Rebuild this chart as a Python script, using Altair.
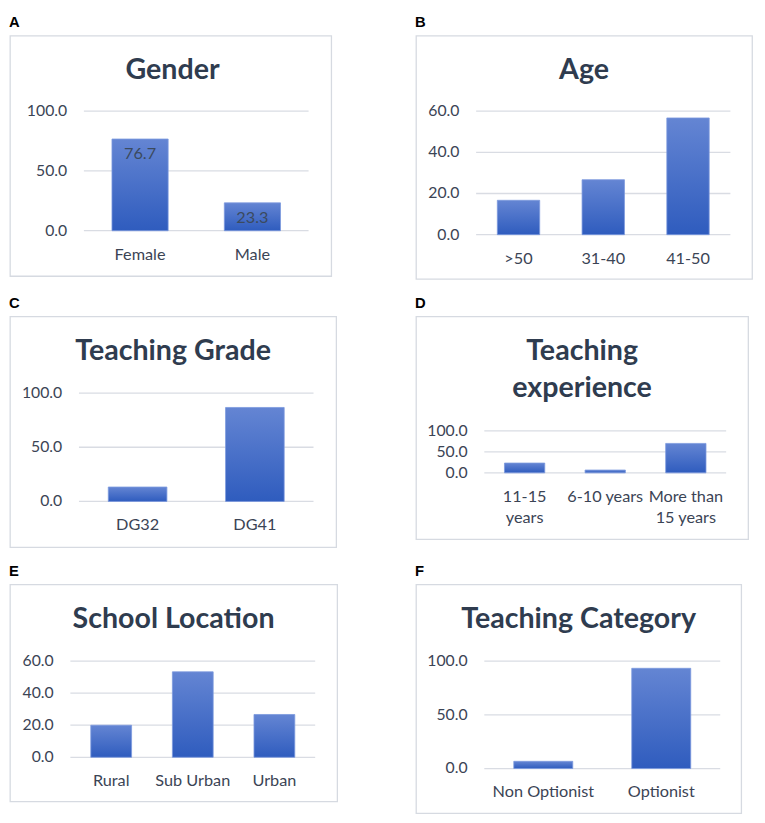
import altair as alt
import pandas as pd

# ---------------- data ----------------
gender_cats = ["Female", "Male"]
gender_vals = [76.7, 23.3]

age_cats = [">50", "31-40", "41-50"]
age_vals = [16.7, 26.7, 56.7]

grade_cats = ["DG32", "DG41"]
grade_vals = [13.3, 86.7]

exp_cats = ["11-15 years", "6-10 years", "More than 15 years"]
exp_labels = ["11-15\nyears", "6-10 years", "More than\n15 years"]
exp_vals = [23.3, 6.7, 70.0]

loc_cats = ["Rural", "Sub Urban", "Urban"]
loc_vals = [20.0, 53.3, 26.7]

tcat_cats = ["Non Optionist", "Optionist"]
tcat_vals = [6.7, 93.3]

ticks_100 = [0, 50, 100]
ticks_60 = [0, 20, 40, 60]

# ---------------- style ----------------
FONT = "Lato"
TITLE_C = "#2F3C4F"
TEXT_C = "#3B4455"
GRID_C = "#D9DCE3"
BOX_C = "#D6DAE1"
GRAD = {
    "gradient": "linear",
    "x1": 0, "x2": 0, "y1": 0, "y2": 1,
    "stops": [
        {"offset": 0, "color": "#6485D3"},
        {"offset": 1, "color": "#2F5CBE"},
    ],
}


def panel(letter, title, cats, vals, labels, ticks, ymax,
          W, H, L, R, ytop, ybot, title_x, show_values=False):
    df = pd.DataFrame({"cat": cats, "value": vals, "label": labels})
    tdf = pd.DataFrame({"t": ticks})
    yscale = alt.Scale(domain=[0, ymax], range=[ybot, ytop], nice=False)
    xscale = alt.Scale(domain=cats, range=[L, R], paddingInner=0.5, paddingOuter=0.25)
    X = alt.X("cat:N", scale=xscale, axis=None, sort=cats)

    grid = alt.Chart(tdf).mark_rule(color=GRID_C, strokeWidth=1.3).encode(
        y=alt.Y("t:Q", scale=yscale, axis=None),
        x=alt.value(L), x2=alt.value(R))
    tlab = alt.Chart(tdf).mark_text(
        align="right", baseline="middle", font=FONT, fontSize=16, color=TEXT_C
    ).encode(
        y=alt.Y("t:Q", scale=yscale, axis=None),
        x=alt.value(L - 17),
        text=alt.Text("t:Q", format=".1f"))
    bars = alt.Chart(df).mark_bar(color=GRAD, stroke="#7C99DE", strokeWidth=0.8).encode(
        x=X, y=alt.Y("value:Q", scale=yscale, axis=None))
    clab = alt.Chart(df).mark_text(
        baseline="alphabetic", font=FONT, fontSize=16.5, color=TEXT_C,
        lineBreak="\n", lineHeight=21.7
    ).encode(x=X, y=alt.value(ybot + 29.3), text="label:N")
    ttl = alt.Chart(pd.DataFrame({"title": [title]})).mark_text(
        font=FONT, fontSize=29, fontWeight="bold", color=TITLE_C,
        align="center", baseline="alphabetic", lineBreak="\n", lineHeight=37.3
    ).encode(x=alt.value(title_x), y=alt.value(44.5), text="title:N")
    let = alt.Chart(pd.DataFrame({"letter": [letter]})).mark_text(
        font="Liberation Sans", fontSize=15, fontWeight="bold", color="#000000",
        align="left", baseline="alphabetic"
    ).encode(x=alt.value(-1), y=alt.value(-9), text="letter:N")

    layers = [grid, tlab, bars, clab, ttl, let]
    if show_values:
        vlab = alt.Chart(df).mark_text(
            baseline="middle", dy=15, font=FONT, fontSize=16.5, color="#3B4A5E"
        ).encode(x=X, y=alt.Y("value:Q", scale=yscale, axis=None),
                 text=alt.Text("value:Q", format=".1f"))
        layers.append(vlab)
    return alt.layer(*layers).properties(width=W, height=H)


pA = panel("A", "Gender", gender_cats, gender_vals, gender_cats, ticks_100, 100,
           326, 244, 75, 303, 76.7, 198, 165, show_values=True)
pB = panel("B", "Age", age_cats, age_vals, age_cats, ticks_60, 60,
           341, 247, 61, 319, 76.7, 202, 170.5)
pC = panel("C", "Teaching Grade", grade_cats, grade_vals, grade_cats, ticks_100, 100,
           331, 234, 70, 308, 77.7, 187.7, 165.5)
pD = panel("D", "Teaching\nexperience", exp_cats, exp_vals, exp_labels, ticks_100, 100,
           337, 226, 69.3, 314.7, 116, 158.7, 168.5)
pE = panel("E", "School Location", loc_cats, loc_vals, loc_cats, ticks_60, 60,
           332, 220, 61.3, 309.7, 77.7, 175.3, 166)
pF = panel("F", "Teaching Category", tcat_cats, tcat_vals, tcat_cats, ticks_100, 100,
           330, 232, 69.3, 308.7, 77.7, 186.7, 165)

chart = alt.concat(
    pA, pB, pC, pD, pE, pF,
    columns=2, spacing={"row": 38, "column": 80}, align="none", bounds="flush",
).properties(
    padding={"left": 0, "top": 0, "right": 4, "bottom": 4},
    background="#FFFFFF",
).configure_view(stroke=BOX_C, strokeWidth=1.3)

chart.save("out.html", embed_options={"renderer": "svg", "actions": False})
